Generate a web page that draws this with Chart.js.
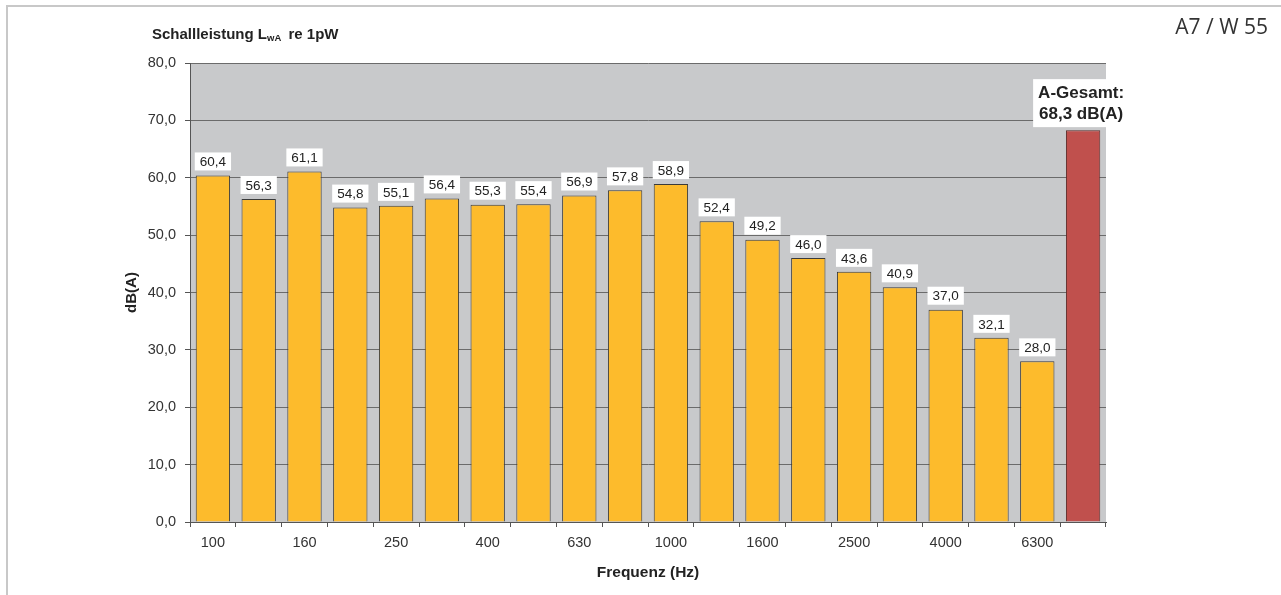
<!DOCTYPE html>
<html>
<head>
<meta charset="utf-8">
<script src="https://cdn.jsdelivr.net/npm/chart.js@4/dist/chart.umd.min.js"></script>
<style>
html,body{margin:0;padding:0;background:#fff;}
#wrap{position:relative;width:1281px;height:595px;overflow:hidden;}
#frame{position:absolute;left:6px;top:5px;width:1300px;height:620px;border-left:2px solid #c8c8c8;border-top:2px solid #c8c8c8;}
canvas{position:absolute;left:0;top:0;}
</style>
</head>
<body>
<div id="wrap">
<div id="frame"></div>
<canvas id="c" width="1281" height="595"></canvas>
</div>
<script>
const categories = ["100","125","160","200","250","315","400","500","630","800","1000","1250","1600","2000","2500","3150","4000","5000","6300","Gesamt"];
const shownLabels = ["100","160","250","400","630","1000","1600","2500","4000","6300"];
const values = [60.4,56.3,61.1,54.8,55.1,56.4,55.3,55.4,56.9,57.8,58.9,52.4,49.2,46.0,43.6,40.9,37.0,32.1,28.0,68.3];
const totalLabel = ["A-Gesamt:", "68,3 dB(A)"];
const yTicks = [0,10,20,30,40,50,60,70,80];
const chartTitle = "Schallleistung";
const cornerLabel = "A7 / W 55";

const orange = "#fdbb2c", red = "#c0504d";
const fmt = v => v.toFixed(1).replace(".", ",");
const FONT = "'Liberation Sans', Arial, sans-serif";

const bgPlugin = {
  id: "bg",
  beforeDraw(chart) {
    const {ctx, chartArea: a} = chart;
    ctx.save();
    ctx.fillStyle = "#c8c9cb";
    ctx.fillRect(a.left, a.top, a.right - a.left, a.bottom - a.top);
    ctx.restore();
  }
};

const labelPlugin = {
  id: "labels",
  afterDatasetsDraw(chart) {
    const ctx = chart.ctx;
    const meta = chart.getDatasetMeta(0);
    ctx.save();
    meta.data.forEach((bar, i) => {
      const last = i === values.length - 1;
      if (!last) {
        ctx.font = "13.5px " + FONT;
        const t = fmt(values[i]);
        const w = ctx.measureText(t).width + 10;
        const h = 18;
        const yb = bar.y - 5;
        ctx.fillStyle = "#fff";
        ctx.fillRect(bar.x - w / 2, yb - h, w, h);
        ctx.fillStyle = "#222";
        ctx.textAlign = "center";
        ctx.textBaseline = "middle";
        ctx.fillText(t, bar.x, yb - h / 2 + 1);
      } else {
        ctx.font = "bold 17px " + FONT;
        const w = Math.max(...totalLabel.map(s => ctx.measureText(s).width)) + 10;
        const h = 48;
        const yb = bar.y - 3;
        const cx = bar.x - 2;
        ctx.fillStyle = "#fff";
        ctx.fillRect(cx - w / 2, yb - h, w, h);
        ctx.fillStyle = "#222";
        ctx.textAlign = "center";
        ctx.textBaseline = "middle";
        ctx.fillText(totalLabel[0], cx, yb - h + 14);
        ctx.fillText(totalLabel[1], cx, yb - h + 35);
      }
    });
    // title with subscript
    ctx.fillStyle = "#222";
    ctx.textAlign = "left";
    ctx.textBaseline = "alphabetic";
    ctx.font = "bold 15px " + FONT;
    let x = 152;
    const y = 39;
    ctx.fillText(chartTitle + " L", x, y);
    x += ctx.measureText(chartTitle + " L").width;
    ctx.font = "bold 9.5px " + FONT;
    ctx.fillText("wA", x, y + 2);
    x += ctx.measureText("wA").width + 3;
    ctx.font = "bold 15px " + FONT;
    ctx.fillText(" re 1pW", x, y);
    // corner label
    ctx.font = "21px 'Open Sans', 'Noto Sans', sans-serif";
    ctx.fillStyle = "#333";
    ctx.textAlign = "right";
    ctx.fillText(cornerLabel, 1268, 34);
    ctx.restore();
  }
};

new Chart(document.getElementById("c"), {
  type: "bar",
  data: {
    labels: categories,
    datasets: [{
      data: values,
      backgroundColor: values.map((v, i) => i === values.length - 1 ? red : orange),
      borderColor: values.map((v, i) => i === values.length - 1 ? "#5a2a28" : "#3a3a3a"),
      borderWidth: 1,
      categoryPercentage: 1.0,
      barPercentage: 0.75
    }]
  },
  options: {
    responsive: false,
    animation: false,
    events: [],
    layout: { padding: { left: 120, top: 63, right: 175, bottom: 10 } },
    plugins: { legend: { display: false }, tooltip: { enabled: false }, title: { display: false } },
    scales: {
      x: {
        offset: true,
        grid: { offset: true, drawOnChartArea: false, drawTicks: true, tickLength: 5, color: "#555", tickColor: "#555", tickWidth: 1 },
        border: { color: "#555", width: 1 },
        ticks: {
          autoSkip: false, maxRotation: 0, padding: 7,
          color: "#333",
          font: { family: FONT, size: 14.5 },
          callback: function (v, i) { const l = categories[i]; return shownLabels.includes(l) ? l : ""; }
        },
        title: { display: true, text: "Frequenz (Hz)", color: "#222", font: { family: FONT, size: 15.5, weight: "bold" }, padding: { top: 4, bottom: 3 } },
        afterFit: s => { s.height = 63; }
      },
      y: {
        min: 0, max: 80,
        afterBuildTicks: s => { s.ticks = yTicks.map(v => ({ value: v })); },
        grid: { color: "#6b6b6b", tickLength: 5, tickColor: "#555", lineWidth: 1 },
        border: { color: "#555", width: 1 },
        ticks: { color: "#333", padding: 9, font: { family: FONT, size: 14.5 }, callback: v => fmt(v) },
        title: { display: true, text: "dB(A)", color: "#222", font: { family: FONT, size: 15, weight: "bold" }, padding: { top: 3, bottom: 4 } },
        afterFit: s => { s.width = 70; }
      }
    }
  },
  plugins: [bgPlugin, labelPlugin]
});
</script>
</body>
</html>
